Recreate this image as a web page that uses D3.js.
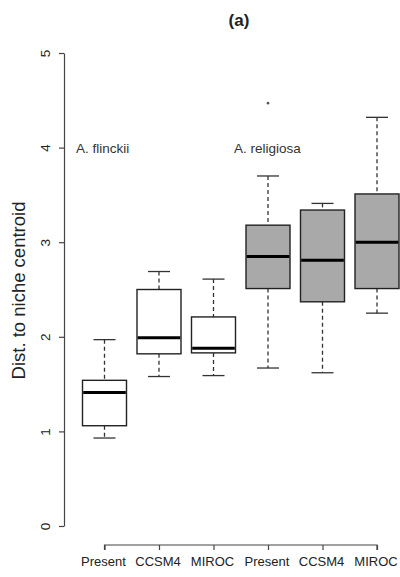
<!DOCTYPE html>
<html>
<head>
<meta charset="utf-8">
<script src="https://cdn.jsdelivr.net/npm/d3@7"></script>
<style>
  html, body { margin: 0; padding: 0; background: #fff; }
  svg { display: block; }
  text { font-family: "Liberation Sans", Arial, sans-serif; fill: #222; }
</style>
</head>
<body>
<svg id="chart" width="400" height="577"></svg>
<script>
// Group labels along the x axis
const categories = ["Present", "CCSM4", "MIROC", "Present", "CCSM4", "MIROC"];
// Species each box belongs to (0 = A. flinckii, 1 = A. religiosa)
const species = [0, 0, 0, 1, 1, 1];
// Five-number summaries per box
const whiskerLow  = [0.93, 1.58, 1.59, 1.67, 1.62, 2.25];
const boxLow      = [1.06, 1.82, 1.83, 2.51, 2.37, 2.51];
const medians     = [1.41, 1.99, 1.88, 2.85, 2.81, 3.00];
const boxHigh     = [1.54, 2.50, 2.21, 3.18, 3.34, 3.51];
const whiskerHigh = [1.97, 2.69, 2.61, 3.70, 3.41, 4.32];
// Outlying points: [box index, value]
const outliers = [[3, 4.47]];
const yTicks = [0, 1, 2, 3, 4, 5];
const speciesNames = ["A. flinckii", "A. religiosa"];
const speciesFill = ["#ffffff", "#a9a9a9"];

const svg = d3.select("#chart");

const x = d3.scalePoint()
  .domain(d3.range(categories.length))
  .range([104.5, 377]);
const boxW = 44;

const y = d3.scaleLinear().domain([0, 5]).range([526, 53]);

// Y axis (values rotated like base R graphics)
const yAxis = svg.append("g")
  .attr("transform", "translate(64,0)")
  .call(d3.axisLeft(y).tickValues(yTicks).tickSize(5).tickSizeOuter(0).tickFormat(d3.format("d")));
yAxis.select(".domain").attr("stroke", "#444").attr("stroke-width", 1.2);
yAxis.selectAll(".tick line").attr("stroke", "#444").attr("stroke-width", 1.2);
yAxis.selectAll(".tick text")
  .attr("x", null).attr("dy", null)
  .attr("transform", "translate(-18.5,0) rotate(-90)")
  .attr("text-anchor", "middle")
  .attr("dominant-baseline", "central")
  .style("font-size", "13.5px")
  .style("fill", "#222");

// X axis
const xAxis = svg.append("g")
  .attr("transform", "translate(0,545)")
  .call(d3.axisBottom(x).tickSize(5).tickSizeOuter(0).tickFormat(i => categories[i]));
xAxis.select(".domain").attr("stroke", "#444").attr("stroke-width", 1.2)
  .attr("d", `M${x(0)},5V0H${x(categories.length - 1)}V5`);
xAxis.selectAll(".tick line").attr("stroke", "#444").attr("stroke-width", 1.2);
xAxis.selectAll(".tick text")
  .attr("y", 12)
  .attr("dx", -1.5)
  .style("font-size", "13px")
  .style("fill", "#222");

// Boxes
const boxes = svg.append("g").selectAll("g")
  .data(d3.range(categories.length))
  .join("g");

boxes.append("line")
  .attr("x1", i => x(i)).attr("x2", i => x(i))
  .attr("y1", i => y(whiskerHigh[i])).attr("y2", i => y(boxHigh[i]))
  .attr("stroke", "#333").attr("stroke-width", 1.3).attr("stroke-dasharray", "4,3");
boxes.append("line")
  .attr("x1", i => x(i)).attr("x2", i => x(i))
  .attr("y1", i => y(boxLow[i])).attr("y2", i => y(whiskerLow[i]))
  .attr("stroke", "#333").attr("stroke-width", 1.3).attr("stroke-dasharray", "4,3");
boxes.append("line")
  .attr("x1", i => x(i) - boxW / 4).attr("x2", i => x(i) + boxW / 4)
  .attr("y1", i => y(whiskerHigh[i])).attr("y2", i => y(whiskerHigh[i]))
  .attr("stroke", "#333").attr("stroke-width", 1.3);
boxes.append("line")
  .attr("x1", i => x(i) - boxW / 4).attr("x2", i => x(i) + boxW / 4)
  .attr("y1", i => y(whiskerLow[i])).attr("y2", i => y(whiskerLow[i]))
  .attr("stroke", "#333").attr("stroke-width", 1.3);
boxes.append("rect")
  .attr("x", i => x(i) - boxW / 2)
  .attr("width", boxW)
  .attr("y", i => y(boxHigh[i]))
  .attr("height", i => y(boxLow[i]) - y(boxHigh[i]))
  .attr("fill", i => speciesFill[species[i]])
  .attr("stroke", "#222").attr("stroke-width", 1.4);
boxes.append("line")
  .attr("x1", i => x(i) - boxW / 2 + 0.7).attr("x2", i => x(i) + boxW / 2 - 0.7)
  .attr("y1", i => y(medians[i])).attr("y2", i => y(medians[i]))
  .attr("stroke", "#000").attr("stroke-width", 3);

// Outliers
svg.append("g").selectAll("circle")
  .data(outliers)
  .join("circle")
  .attr("cx", d => x(d[0]))
  .attr("cy", d => y(d[1]))
  .attr("r", 1.3)
  .attr("fill", "#555");

// Species labels
svg.append("text").attr("x", 76).attr("y", y(4) + 5)
  .style("font-size", "13.5px").style("fill", "#333").text(speciesNames[0]);
svg.append("text").attr("x", 234).attr("y", y(4) + 5)
  .style("font-size", "13.5px").style("fill", "#333").text(speciesNames[1]);

// Y axis title
svg.append("text")
  .attr("transform", `translate(25,${(y(0) + y(5)) / 2 + 1}) rotate(-90)`)
  .attr("text-anchor", "middle")
  .style("font-size", "18.5px")
  .style("fill", "#222")
  .text("Dist. to niche centroid");

// Panel title
svg.append("text")
  .attr("x", 239).attr("y", 26)
  .attr("text-anchor", "middle")
  .style("font-size", "17px")
  .style("font-weight", "bold")
  .text("(a)");
</script>
</body>
</html>
